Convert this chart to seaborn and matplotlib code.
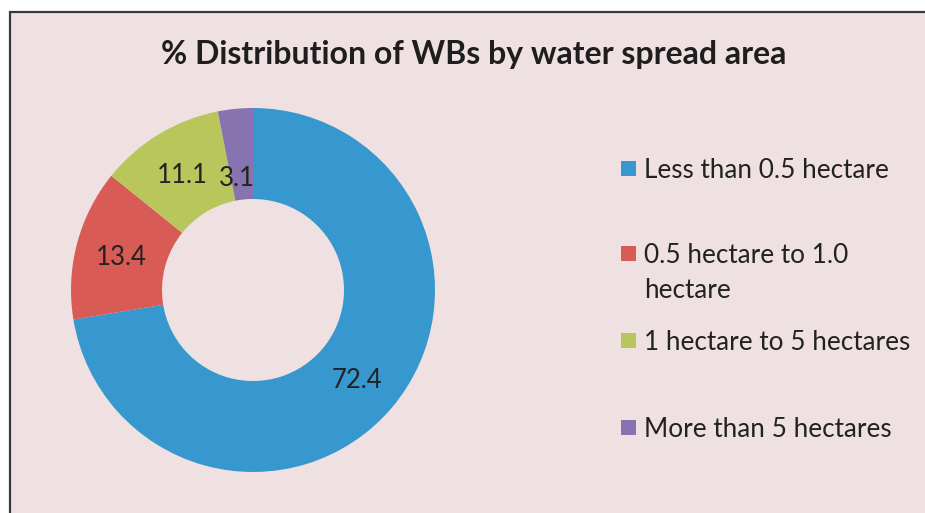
import matplotlib
matplotlib.use('Agg')
import matplotlib.pyplot as plt
from matplotlib.patches import Rectangle
from matplotlib.lines import Line2D
import seaborn as sns

# data
categories = ['Less than 0.5 hectare', '0.5 hectare to 1.0\nhectare',
              '1 hectare to 5 hectares', 'More than 5 hectares']
shares = [72.4, 13.4, 11.1, 3.1]
colors = ['#3797CF', '#D95B55', '#B9C65B', '#8673B0']
title = '% Distribution of WBs by water spread area'

BG = '#EFE1E1'
W, H = 925, 513

sns.set_theme(style='white')
plt.rcParams['font.family'] = ['Lato', 'DejaVu Sans']

fig = plt.figure(figsize=(W / 100, H / 100), dpi=100, facecolor=BG,
                 edgecolor=BG, linewidth=0)

# white margin on the left and top, dark frame edge along them
x0, y0 = 9.5 / W, 1 - 11.5 / H
fig.patches.append(Rectangle((0, 0), x0, 1, transform=fig.transFigure,
                             facecolor='white', edgecolor='none', zorder=-5))
fig.patches.append(Rectangle((0, y0), 1, 1 - y0, transform=fig.transFigure,
                             facecolor='white', edgecolor='none', zorder=-5))
for xs, ys in [([x0, 1], [y0, y0]), ([x0, x0], [0, y0])]:
    fig.lines.append(Line2D(xs, ys, transform=fig.transFigure,
                            color='#3a3a3a', linewidth=1.6, zorder=-4))

cx, cy, r = 253, 290, 182
ax = fig.add_axes([(cx - r) / W, (H - cy - r) / H, 2 * r / W, 2 * r / H])
ax.set_facecolor('none')

wedges, texts, autotexts = ax.pie(
    shares, colors=colors, startangle=90, counterclock=False,
    radius=1.0, wedgeprops=dict(width=0.5, edgecolor='none'),
    autopct='%.1f', pctdistance=0.75,
    textprops=dict(fontsize=18.5, color='#222222'))
for t in autotexts:
    t.set_va('center_baseline')
# small slice label sits a little lower, as in the reference
x, y = autotexts[3].get_position()
autotexts[3].set_position((x * 0.84 - 0.03, y * 0.84))
ax.set_xlim(-1, 1)
ax.set_ylim(-1, 1)
ax.set_aspect('equal')
ax.axis('off')

fig.text(474 / W, 1 - 55 / H, title, ha='center', va='center',
         fontsize=23, fontweight='bold', color='#1e1e1e')

# legend: colour square + label, second line of a wrapped label below
leg_y = [168, 253, 340, 427]
sq = 15
for label, color, ly in zip(categories, colors, leg_y):
    fig.patches.append(Rectangle((621 / W, 1 - (ly + sq / 2) / H), sq / W, sq / H,
                                 transform=fig.transFigure, facecolor=color,
                                 edgecolor='none'))
    for k, line in enumerate(label.split('\n')):
        fig.text(644 / W, 1 - (ly + 35 * k) / H, line, ha='left',
                 va='center_baseline', fontsize=18.8, color='#222222')

fig.savefig('out.png', dpi=100, facecolor=BG)
